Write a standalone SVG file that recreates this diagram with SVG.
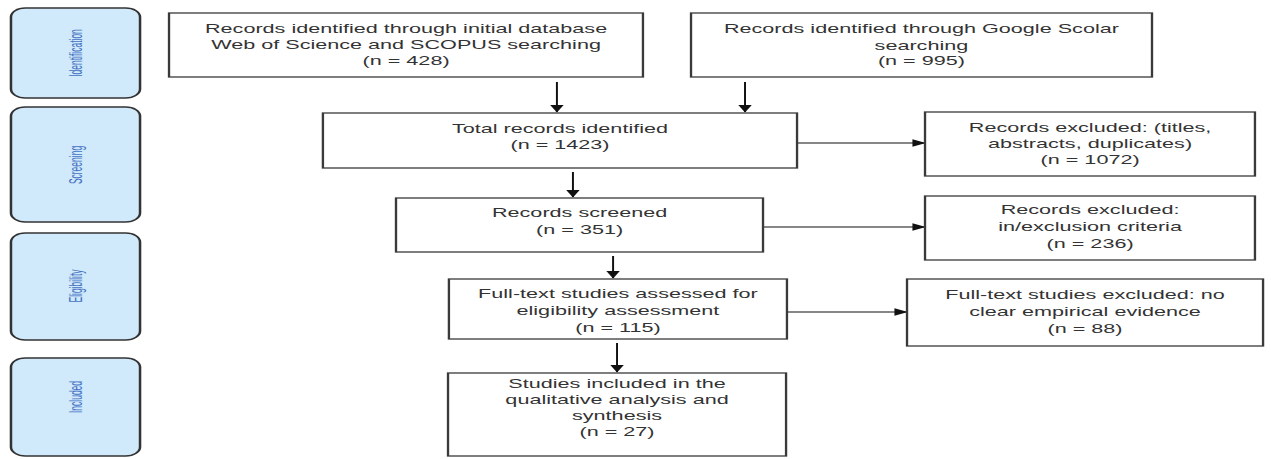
<svg xmlns="http://www.w3.org/2000/svg" width="1271" height="459" viewBox="0 0 1271 459">
<style>
.box{fill:#fff;stroke:#3a3a3a;stroke-width:1.3}
.stage{fill:#d1eafb;stroke:#333;stroke-width:1.4}
.t{font-family:"Liberation Sans",Arial,sans-serif;font-size:12px;fill:#333;text-anchor:middle}
.st{font-family:"Liberation Sans",Arial,sans-serif;font-size:8.5px;fill:#4472c4;text-anchor:middle}
.c{stroke:#111;stroke-width:1.1;fill:none;marker-end:url(#ah)}
</style>
<defs>
<marker id="ah" markerUnits="userSpaceOnUse" markerWidth="8" markerHeight="8" refX="7" refY="3.75" orient="auto">
<path d="M0,0 L7.5,3.75 L0,7.5 z" fill="#111"/>
</marker>
</defs>
<rect width="1271" height="459" fill="#fff"/>
<g transform="scale(1.8 1)">
<g id="stage-identification"><rect class="stage" x="6.1" y="8" width="71.7" height="90" rx="8" ry="9"/><text class="st" transform="translate(42 53) scale(1.15 1) rotate(-90)" x="0" y="3">Identification</text></g>
<g id="stage-screening"><rect class="stage" x="6.1" y="107" width="71.7" height="115" rx="8" ry="9"/><text class="st" transform="translate(42 165) scale(1.15 1) rotate(-90)" x="0" y="3">Screening</text></g>
<g id="stage-eligibility"><rect class="stage" x="6.1" y="233" width="71.7" height="107" rx="8" ry="9"/><text class="st" transform="translate(42 286) scale(1.15 1) rotate(-90)" x="0" y="3">Eligibility</text></g>
<g id="stage-included"><rect class="stage" x="6.1" y="358" width="71.7" height="98" rx="8" ry="9"/><text class="st" transform="translate(42 397) scale(1.15 1) rotate(-90)" x="0" y="3">Included</text></g>

<g id="connectors">
<line class="c" x1="309.4" y1="82" x2="309.4" y2="112"/>
<line class="c" x1="413.9" y1="82" x2="413.9" y2="112"/>
<line class="c" x1="318.3" y1="172" x2="318.3" y2="197"/>
<line class="c" x1="340.6" y1="256" x2="340.6" y2="278"/>
<line class="c" x1="342.8" y1="343" x2="342.8" y2="372"/>
<line class="c" x1="442.8" y1="143" x2="513.9" y2="143"/>
<line class="c" x1="423.9" y1="227" x2="513.9" y2="227"/>
<line class="c" x1="437.2" y1="312" x2="503.9" y2="312"/>
</g>

<g id="node-db"><rect class="box" x="93.9" y="13" width="263.3" height="64"/><text class="t"><tspan x="225.6" y="33.5">Records identified through initial database</tspan><tspan x="225.6" y="49">Web of Science and SCOPUS searching</tspan><tspan x="225.6" y="65">(n = 428)</tspan></text></g>
<g id="node-scholar"><rect class="box" x="383.9" y="13" width="256.1" height="64"/><text class="t"><tspan x="511.9" y="33.5">Records identified through Google Scolar</tspan><tspan x="511.9" y="50">searching</tspan><tspan x="511.9" y="65.5">(n = 995)</tspan></text></g>
<g id="node-total"><rect class="box" x="179.4" y="113" width="263.4" height="55"/><text class="t"><tspan x="311.1" y="133.5">Total records identified</tspan><tspan x="311.1" y="149.5">(n = 1423)</tspan></text></g>
<g id="node-screened"><rect class="box" x="220" y="198" width="203.9" height="54"/><text class="t"><tspan x="322" y="217.5">Records screened</tspan><tspan x="322" y="234">(n = 351)</tspan></text></g>
<g id="node-fulltext"><rect class="box" x="249.4" y="279" width="187.8" height="60"/><text class="t"><tspan x="343.3" y="298.5">Full-text studies assessed for</tspan><tspan x="343.3" y="315">eligibility assessment</tspan><tspan x="343.3" y="332">(n = 115)</tspan></text></g>
<g id="node-included"><rect class="box" x="248.9" y="373" width="187.8" height="83"/><text class="t"><tspan x="342.8" y="388">Studies included in the</tspan><tspan x="342.8" y="404">qualitative analysis and</tspan><tspan x="342.8" y="420.5">synthesis</tspan><tspan x="342.8" y="436.5">(n = 27)</tspan></text></g>
<g id="node-excl-titles"><rect class="box" x="513.9" y="112" width="183.3" height="64"/><text class="t"><tspan x="605.6" y="132">Records excluded: (titles,</tspan><tspan x="605.6" y="148">abstracts, duplicates)</tspan><tspan x="605.6" y="164.5">(n = 1072)</tspan></text></g>
<g id="node-excl-criteria"><rect class="box" x="513.9" y="196" width="183.3" height="64"/><text class="t"><tspan x="605.6" y="214.5">Records excluded:</tspan><tspan x="605.6" y="231">in/exclusion criteria</tspan><tspan x="605.6" y="248">(n = 236)</tspan></text></g>
<g id="node-excl-fulltext"><rect class="box" x="503.9" y="279" width="197.8" height="67"/><text class="t"><tspan x="602.8" y="299.5">Full-text studies excluded: no</tspan><tspan x="602.8" y="316">clear empirical evidence</tspan><tspan x="602.8" y="333">(n = 88)</tspan></text></g>
</g>
</svg>
